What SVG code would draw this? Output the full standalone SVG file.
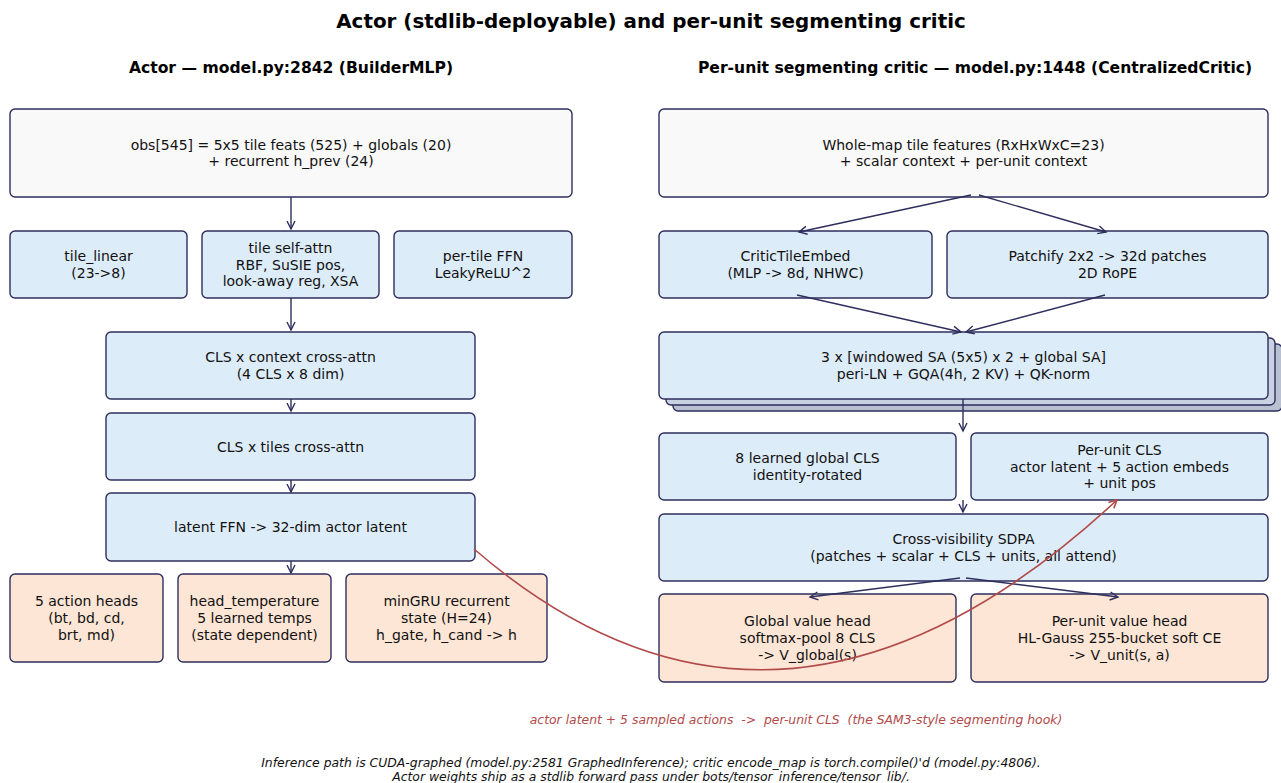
<svg xmlns="http://www.w3.org/2000/svg" width="1281" height="783" viewBox="0 0 1281 783">
<defs>
<marker id="ah" markerWidth="12" markerHeight="12" refX="10" refY="6" orient="auto" markerUnits="userSpaceOnUse">
<path d="M2,2 L10,6 L2,10" fill="none" stroke="#2e2e5e" stroke-width="1.4"/>
</marker>
<marker id="ahr" markerWidth="12" markerHeight="12" refX="10" refY="6" orient="auto" markerUnits="userSpaceOnUse">
<path d="M2,2 L10,6 L2,10" fill="none" stroke="#b24a4a" stroke-width="1.6"/>
</marker>
<style>
.b{stroke:#2e2e5e;stroke-width:1.4}
.g{fill:#f9f9f9}
.l{fill:#ddecf9}
.p{fill:#fde6d6}
.s{fill:#b9c1d1}
.t{font-family:"DejaVu Sans",sans-serif;font-size:14px;fill:#111;text-anchor:middle;dominant-baseline:central}
.h{font-family:"DejaVu Sans",sans-serif;font-weight:bold;fill:#000;text-anchor:middle}
.c{stroke:#2e2e5e;stroke-width:1.4;fill:none;marker-end:url(#ah)}
.it{font-family:"DejaVu Sans",sans-serif;font-style:italic;text-anchor:middle}
</style>
</defs>
<rect width="1281" height="783" fill="#fff"/>
<text class="h" x="651" y="28" font-size="19.9">Actor (stdlib-deployable) and per-unit segmenting critic</text>
<text class="h" x="291" y="73" font-size="15.6">Actor — model.py:2842 (BuilderMLP)</text>
<text class="h" x="975" y="73" font-size="15.6">Per-unit segmenting critic — model.py:1448 (CentralizedCritic)</text>

<g id="obs"><rect class="b g" x="10" y="109" width="562" height="88" rx="5"/>
<text class="t" x="291" y="144.6">obs[545] = 5x5 tile feats (525) + globals (20)</text>
<text class="t" x="291" y="161.4">+ recurrent h_prev (24)</text></g>
<g id="tile_linear"><rect class="b l" x="10" y="231" width="177" height="67" rx="5"/>
<text class="t" x="98.5" y="256.1">tile_linear</text><text class="t" x="98.5" y="272.9">(23-&gt;8)</text></g>
<g id="tile_self_attn"><rect class="b l" x="202" y="231" width="177" height="67" rx="5"/>
<text class="t" x="290.5" y="247.8">tile self-attn</text><text class="t" x="290.5" y="264.5">RBF, SuSIE pos,</text><text class="t" x="290.5" y="281.2">look-away reg, XSA</text></g>
<g id="per_tile_ffn"><rect class="b l" x="394" y="231" width="178" height="67" rx="5"/>
<text class="t" x="483" y="256.1">per-tile FFN</text><text class="t" x="483" y="272.9">LeakyReLU^2</text></g>
<g id="cls_context"><rect class="b l" x="106" y="332" width="369" height="67" rx="5"/>
<text class="t" x="290.5" y="357.1">CLS x context cross-attn</text><text class="t" x="290.5" y="373.9">(4 CLS x 8 dim)</text></g>
<g id="cls_tiles"><rect class="b l" x="106" y="413" width="369" height="67" rx="5"/>
<text class="t" x="290.5" y="446.5">CLS x tiles cross-attn</text></g>
<g id="latent_ffn"><rect class="b l" x="106" y="493" width="369" height="68" rx="5"/>
<text class="t" x="290.5" y="527">latent FFN -&gt; 32-dim actor latent</text></g>
<g id="action_heads"><rect class="b p" x="10" y="574" width="153" height="88" rx="5"/>
<text class="t" x="86.5" y="601.3">5 action heads</text><text class="t" x="86.5" y="618">(bt, bd, cd,</text><text class="t" x="86.5" y="634.7">brt, md)</text></g>
<g id="head_temperature"><rect class="b p" x="178" y="574" width="153" height="88" rx="5"/>
<text class="t" x="254.5" y="601.3">head_temperature</text><text class="t" x="254.5" y="618">5 learned temps</text><text class="t" x="254.5" y="634.7">(state dependent)</text></g>
<g id="mingru"><rect class="b p" x="346" y="574" width="201" height="88" rx="5"/>
<text class="t" x="446.5" y="601.3">minGRU recurrent</text><text class="t" x="446.5" y="618">state (H=24)</text><text class="t" x="446.5" y="634.7">h_gate, h_cand -&gt; h</text></g>

<g id="whole_map"><rect class="b g" x="659" y="109" width="609" height="88" rx="5"/>
<text class="t" x="963.5" y="144.6">Whole-map tile features (RxHxWxC=23)</text>
<text class="t" x="963.5" y="161.4">+ scalar context + per-unit context</text></g>
<g id="critic_tile_embed"><rect class="b l" x="659" y="231" width="273" height="67" rx="5"/>
<text class="t" x="795.5" y="256.1">CriticTileEmbed</text><text class="t" x="795.5" y="272.9">(MLP -&gt; 8d, NHWC)</text></g>
<g id="patchify"><rect class="b l" x="947" y="231" width="321" height="67" rx="5"/>
<text class="t" x="1107.5" y="256.1">Patchify 2x2 -&gt; 32d patches</text><text class="t" x="1107.5" y="272.9">2D RoPE</text></g>
<g id="sa_stack"><rect class="b s" x="673" y="344" width="609" height="67" rx="5"/>
<rect class="b" fill="#c9d2e0" x="666" y="338" width="609" height="67" rx="5"/>
<rect class="b l" x="659" y="332" width="609" height="67" rx="5"/>
<text class="t" x="963.5" y="357.1">3 x [windowed SA (5x5) x 2 + global SA]</text><text class="t" x="963.5" y="373.9">peri-LN + GQA(4h, 2 KV) + QK-norm</text></g>
<g id="global_cls"><rect class="b l" x="659" y="433" width="297" height="67" rx="5"/>
<text class="t" x="807.5" y="458.1">8 learned global CLS</text><text class="t" x="807.5" y="474.9">identity-rotated</text></g>
<g id="per_unit_cls"><rect class="b l" x="971" y="433" width="297" height="67" rx="5"/>
<text class="t" x="1119.5" y="449.8">Per-unit CLS</text><text class="t" x="1119.5" y="466.5">actor latent + 5 action embeds</text><text class="t" x="1119.5" y="483.2">+ unit pos</text></g>
<g id="sdpa"><rect class="b l" x="659" y="514" width="609" height="67" rx="5"/>
<text class="t" x="963.5" y="539.1">Cross-visibility SDPA</text><text class="t" x="963.5" y="555.9">(patches + scalar + CLS + units, all attend)</text></g>
<g id="global_value"><rect class="b p" x="659" y="594" width="297" height="88" rx="5"/>
<text class="t" x="807.5" y="621.3">Global value head</text><text class="t" x="807.5" y="638">softmax-pool 8 CLS</text><text class="t" x="807.5" y="654.7">-&gt; V_global(s)</text></g>
<g id="unit_value"><rect class="b p" x="971" y="594" width="297" height="88" rx="5"/>
<text class="t" x="1119.5" y="621.3">Per-unit value head</text><text class="t" x="1119.5" y="638">HL-Gauss 255-bucket soft CE</text><text class="t" x="1119.5" y="654.7">-&gt; V_unit(s, a)</text></g>

<g id="connectors">
<path class="c" d="M291,197 L291,229"/>
<path class="c" d="M291,298 L291,330"/>
<path class="c" d="M291,399 L291,411"/>
<path class="c" d="M291,480 L291,492"/>
<path class="c" d="M291,561 L291,573"/>
<path class="c" d="M971,195 L799,232"/>
<path class="c" d="M979,195 L1106,232"/>
<path class="c" d="M797,295 L961,332"/>
<path class="c" d="M1105,295 L966,332"/>
<path class="c" d="M963,399 L963,431"/>
<path class="c" d="M963,500 L963,512"/>
<path class="c" d="M960,578 L810,597"/>
<path class="c" d="M966,578 L1118,597"/>
<path d="M474,549 Q780,813 1117,500" fill="none" stroke="#b24a4a" stroke-width="1.6" marker-end="url(#ahr)"/>
</g>
<text class="it" x="796" y="724" font-size="12.4" fill="#b24a4a" xml:space="preserve">actor latent + 5 sampled actions  -&gt;  per-unit CLS  (the SAM3-style segmenting hook)</text>
<text class="it" x="651" y="767" font-size="12.4" fill="#111">Inference path is CUDA-graphed (model.py:2581 GraphedInference); critic encode_map is torch.compile()'d (model.py:4806).</text>
<text class="it" x="651" y="781" font-size="12.4" fill="#111">Actor weights ship as a stdlib forward pass under bots/tensor_inference/tensor_lib/.</text>
</svg>
